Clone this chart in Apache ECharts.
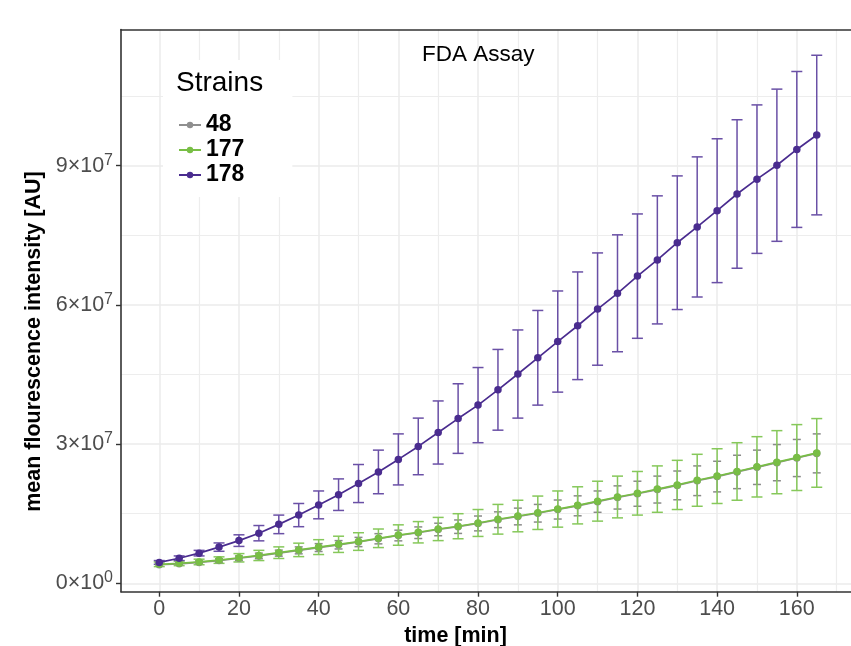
<!DOCTYPE html>
<html><head><meta charset="utf-8">
<script src="https://cdn.jsdelivr.net/npm/echarts@6/dist/echarts.min.js"></script>
<style>html,body{margin:0;padding:0;background:#fff}#c{width:851px;height:646px}</style>
</head><body><div id="c"></div>
<script>
// ---- data (values in units of 1e7 AU) ----
const time = [0,5,10,15,20,25,30,35,40,45,50,55,60,65,70,75,80,85,90,95,100,105,110,115,120,125,130,135,140,145,150,155,160,165];
const strains = ['48','177','178'];
const mean48 = [0.40,0.42,0.45,0.49,0.54,0.59,0.65,0.71,0.77,0.83,0.89,0.96,1.03,1.09,1.16,1.22,1.29,1.37,1.44,1.51,1.59,1.67,1.76,1.85,1.93,2.02,2.11,2.21,2.30,2.40,2.50,2.60,2.70,2.80];
const sd48   = [0.03,0.03,0.035,0.04,0.05,0.06,0.065,0.075,0.085,0.09,0.10,0.11,0.115,0.125,0.135,0.145,0.16,0.17,0.18,0.19,0.205,0.215,0.23,0.25,0.27,0.29,0.31,0.32,0.33,0.36,0.37,0.39,0.40,0.42];
const mean177 = [0.41,0.43,0.46,0.50,0.55,0.60,0.66,0.72,0.78,0.84,0.90,0.97,1.04,1.10,1.17,1.23,1.30,1.38,1.45,1.52,1.60,1.68,1.77,1.86,1.94,2.03,2.12,2.22,2.31,2.41,2.51,2.61,2.71,2.81];
const sd177   = [0.05,0.05,0.06,0.07,0.09,0.11,0.125,0.145,0.16,0.175,0.19,0.20,0.22,0.23,0.25,0.27,0.29,0.32,0.34,0.36,0.39,0.40,0.43,0.45,0.47,0.50,0.53,0.56,0.59,0.62,0.65,0.68,0.71,0.74];
const mean178 = [0.45,0.54,0.65,0.78,0.92,1.08,1.27,1.47,1.69,1.91,2.15,2.40,2.67,2.95,3.25,3.55,3.84,4.17,4.51,4.86,5.21,5.55,5.91,6.25,6.62,6.97,7.34,7.68,8.03,8.39,8.71,9.01,9.35,9.66];
const sd178   = [0.04,0.05,0.06,0.09,0.125,0.165,0.20,0.25,0.30,0.34,0.41,0.47,0.55,0.61,0.68,0.75,0.81,0.87,0.95,1.02,1.09,1.16,1.21,1.26,1.34,1.38,1.44,1.51,1.55,1.60,1.60,1.64,1.68,1.72];
const SCALE = 1e7;

const xMajorTicks = [0,20,40,60,80,100,120,140,160];
const xMinorTicks = [10,30,50,70,90,110,130,150,170];
const yMajorTicks = [0,3e7,6e7,9e7];
const yMinorTicks = [1.5e7,4.5e7,7.5e7,10.5e7];
const yTickMantissa = ['0','3','6','9'];
const yTickExponent = ['0','7','7','7'];

const FONT = '"Liberation Sans", Arial, Helvetica, sans-serif';
const lineColors = {'48':'#8f8f8f','177':'#78be45','178':'#4a2c8f'};
const barColors  = {'48':'#8a8a8a','177':'#86c85a','178':'#6a50a6'};
const capWidth   = {'48':8,'177':11,'178':11};

function rows(mean, sd){ return time.map((t,i)=>[t, mean[i]*SCALE, sd[i]*SCALE]); }
const dataByStrain = {'48':rows(mean48,sd48),'177':rows(mean177,sd177),'178':rows(mean178,sd178)};

function errorBarSeries(name){
  const col = barColors[name], hw = capWidth[name]/2;
  return {
    type:'custom', name: name+' sd', data: dataByStrain[name], encode:{x:0,y:1},
    xAxisIndex:0, yAxisIndex:0, silent:true, z:2,
    renderItem:(params, api)=>{
      const x=api.value(0), m=api.value(1), s=api.value(2);
      const top=api.coord([x,m+s]), bot=api.coord([x,m-s]);
      const st={stroke:col,lineWidth:1.5};
      return {type:'group',children:[
        {type:'line',shape:{x1:top[0],y1:top[1],x2:bot[0],y2:bot[1]},style:st},
        {type:'line',shape:{x1:top[0]-hw,y1:top[1],x2:top[0]+hw,y2:top[1]},style:st},
        {type:'line',shape:{x1:bot[0]-hw,y1:bot[1],x2:bot[0]+hw,y2:bot[1]},style:st}
      ]};
    }
  };
}
function lineSeries(name){
  return {
    type:'line', name:name, data: dataByStrain[name].map(r=>[r[0],r[1]]),
    xAxisIndex:0, yAxisIndex:0, z:3,
    symbol:'circle', symbolSize:7.5, showSymbol:true,
    lineStyle:{color:lineColors[name],width:1.7},
    itemStyle:{color:lineColors[name]},
    emphasis:{disabled:true}, animation:false
  };
}

const series=[];
strains.forEach(n=>{ series.push(errorBarSeries(n)); series.push(lineSeries(n)); });

const gridLine = {show:true,lineStyle:{color:'#ebebeb',width:1.5}};
const minorGridLine = {show:true,lineStyle:{color:'#ededed',width:1.2}};
const axisLineStyle = {show:true,onZero:false,lineStyle:{color:'#333333',width:1.6}};

const option = {
  animation:false,
  backgroundColor:'#ffffff',
  title:[
    {text:'FDA Assay', left:422, top:43.5, padding:0,
     textStyle:{fontFamily:FONT,fontSize:22.5,fontWeight:'normal',color:'#000'}},
    {text:'Strains', left:176, top:69, padding:0, z:10,
     textStyle:{fontFamily:FONT,fontSize:28,fontWeight:'normal',color:'#000'}}
  ],
  legend:{
    data:strains, orient:'vertical', left:163, top:60,
    padding:[52.5,48,9.5,15], itemGap:0, itemWidth:22, itemHeight:8,
    backgroundColor:'#ffffff', z:5, selectedMode:false,
    textStyle:{fontFamily:FONT,fontSize:23,fontWeight:'bold',color:'#000',lineHeight:25}
  },
  grid:{left:121,right:0,top:29.5,bottom:54.3,show:false,containLabel:false,outerBoundsMode:'none'},
  xAxis:[
    {type:'value',min:-9.6,max:173.6,position:'bottom',
     axisLine:axisLineStyle,
     axisTick:{show:true,length:5,lineStyle:{color:'#333333',width:1.4},customValues:xMajorTicks},
     axisLabel:{show:true,margin:6,customValues:xMajorTicks,fontFamily:FONT,fontSize:21.5,color:'#4d4d4d'},
     splitLine:gridLine,
     name:'time [min]', nameLocation:'middle', nameGap:26,
     nameTextStyle:{fontFamily:FONT,fontSize:21.5,fontWeight:'bold',color:'#000',padding:[0,61,0,0]}},
    {type:'value',min:-9.6,max:173.6,position:'top',
     axisLine:axisLineStyle,
     axisTick:{show:false,customValues:xMinorTicks},
     axisLabel:{show:false,customValues:xMinorTicks},
     splitLine:minorGridLine}
  ],
  yAxis:[
    {type:'value',min:-0.181e7,max:11.935e7,position:'left',
     axisLine:axisLineStyle,
     axisTick:{show:true,length:5,lineStyle:{color:'#333333',width:1.4},customValues:yMajorTicks},
     axisLabel:{show:true,margin:8,customValues:yMajorTicks,color:'#4d4d4d',
       formatter:(v)=>{const i=yMajorTicks.findIndex(t=>Math.abs(t-v)<1);
         return i<0?'':'{b|'+yTickMantissa[i]+'×10}{s|'+yTickExponent[i]+'}';},
       rich:{b:{fontFamily:FONT,fontSize:21.5,color:'#4d4d4d'},
             s:{fontFamily:FONT,fontSize:16,color:'#4d4d4d',padding:[0,0,11,0]}}},
     splitLine:gridLine,
     name:'mean flourescence intensity [AU]', nameLocation:'middle', nameGap:76,
     nameTextStyle:{fontFamily:FONT,fontSize:21.5,fontWeight:'bold',color:'#000',padding:[0,62,0,0]}},
    {type:'value',min:-0.181e7,max:11.935e7,position:'right',
     axisLine:{show:false,onZero:false},
     axisTick:{show:false,customValues:yMinorTicks},
     axisLabel:{show:false,customValues:yMinorTicks},
     splitLine:minorGridLine}
  ],
  series:series
};
const chart = echarts.init(document.getElementById('c'),null,{renderer:'canvas'});
chart.setOption(option);
</script></body></html>
